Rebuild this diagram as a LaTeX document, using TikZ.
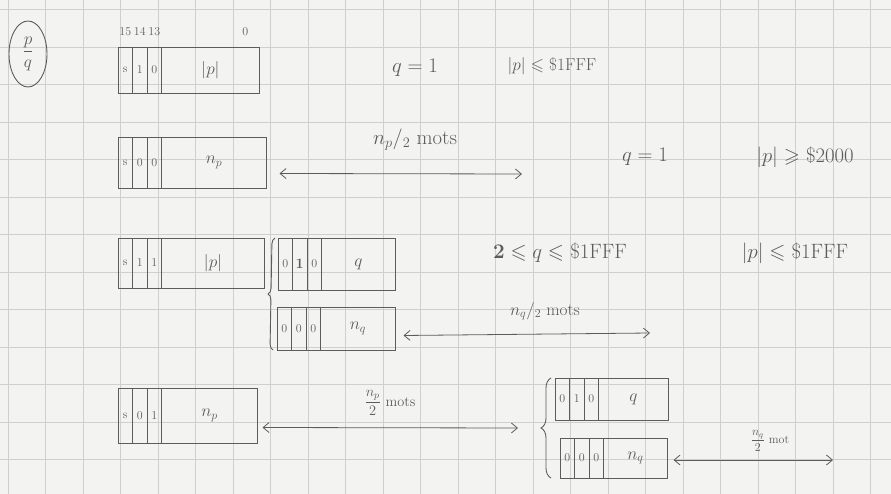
\documentclass[tikz,border=0pt]{standalone}
\usepackage{amsmath,amssymb}
\usetikzlibrary{positioning,shapes.geometric,decorations.pathreplacing,arrows.meta}

\definecolor{pencil}{HTML}{5C5C5C}
\definecolor{paper}{HTML}{F3F3F1}
\definecolor{squares}{HTML}{CFCFCD}

\tikzset{%
  bit/.style={
    rectangle,
    draw=pencil,
    line width=0.9pt,
    inner sep=0pt,
    outer sep=0pt,
    minimum width=14.5,
    text=pencil,
    font=\large
  },
  field/.style={
    rectangle,
    draw=pencil,
    line width=0.9pt,
    inner sep=0pt,
    outer sep=0pt,
    text=pencil,
    font=\LARGE
  },
  note/.style={text=pencil, inner sep=1pt, font=\huge},
  bitno/.style={text=pencil, inner sep=0pt, font=\large},
  size arrow/.style={<->, draw=pencil, line width=0.8pt},
  curly/.style={draw=pencil, line width=0.9pt, decorate, decoration={brace, amplitude=#1}},
  squared/.style={draw=squares, line width=0.8pt},
}

\begin{document}
\begin{tikzpicture}[x=1pt, y=-1pt, >={Straight Barb[length=6pt,width=10pt]}]

% papier
\useasboundingbox (0,0) rectangle (891,494);
\fill[paper] (0,0) rectangle (891,494);
\foreach \gx in {8,45.5,...,891}
  \draw[squared] (\gx,0) -- (\gx,494);
\foreach \gy in {9.5,47,...,494}
  \draw[squared] (0,\gy) -- (891,\gy);


% p/q
\node [ellipse, draw=pencil, line width=0.9pt, text=pencil, minimum width=38, minimum height=66,
  inner sep=0pt, font=\LARGE] (pq) at (28,54) {$\dfrac{p}{q}$};


% mots
\foreach \n/\x/\y/\h/\a/\b/\c/\w/\t in {
    r1/118/70/46/s/1/0/98/{$|p|$},
    r2/118/162.5/51/s/0/0/105/{$n_p$},
    r3/118/263/50/s/1/1/103/{$|p|$},
    r3q/278/264/52/0/{\Large\textbf{1}}/0/74/{$q$},
    r3n/277/328.5/43/0/0/0/75/{$n_q$},
    r4/118/415.5/55/s/0/1/96/{$n_p$},
    r5q/555/399/42/0/1/0/70/{$q$},
    r5n/560/458/40/0/0/0/64/{$n_q$}}
{
  \node [bit, minimum height=\h, anchor=west] (\n-a) at (\x,\y) {\a};
  \node [bit, minimum height=\h, right=0pt of \n-a] (\n-b) {\b};
  \node [bit, minimum height=\h, right=0pt of \n-b] (\n-c) {\c};
  \node [field, minimum height=\h, minimum width=\w, right=0pt of \n-c] (\n) {\t};
}


% numeros des bits
\foreach \b/\l in {a/15,b/14,c/13}
  \node [bitno, above=11pt of r1-\b] (bit\l) {\l};
\node [bitno, above left=11pt and 11pt of r1.north east] (bit0) {0};


% accolades
\coordinate (br3-top) at ([xshift=-3pt]r3q-a.north west);
\coordinate (br3-bot) at ([xshift=-4pt]r3n-a.south west);
\draw [curly=6pt] (br3-bot) -- (br3-top);

\coordinate (br5-top) at ([xshift=-4pt]r5q-a.north west);
\coordinate (br5-bot) at ([xshift=-9pt]r5n-a.south west);
\draw [curly=10pt] (br5-bot) -- (br5-top);


% longueurs
\coordinate (r2-end) at (522,174);
\draw [size arrow] ([shift={(13,11)}]r2.east) -- (r2-end);

\coordinate (r3-end) at (650,333);
\draw [size arrow] ([shift={(8,7)}]r3n.east) -- (r3-end);

\coordinate (r4-end) at (518,428);
\draw [size arrow] ([shift={(5,12)}]r4.east) -- (r4-end);

\coordinate (r5-end) at (833,460);
\draw [size arrow] ([shift={(6,2)}]r5n.east) -- (r5-end);

\node [note] (len2) at (415,140) {$n_p/_2$ mots};
\node [note, font=\LARGE] (len3) at (545,311) {$n_q/_2$ mots};
\node [note, font=\Large] (len4) at (390,403) {$\dfrac{n_p}{2}$ mots};
\node [note, font=\large] (len5) at (770,441) {$\dfrac{n_q}{2}$ mot};


% conditions
\node [note] (cond1q) at (415,68) {$q=1$};
\node [note, font=\LARGE] (cond1p) at (552,66) {$|p|\leqslant$ \$1FFF};
\node [note] (cond2q) at (645,157) {$q=1$};
\node [note] (cond2p) at (805,157) {$|p|\geqslant$ \$2000};
\node [note] (cond3q) at (560,253) {$\mathbf{2}\leqslant q\leqslant$ \$1FFF};
\node [note] (cond3p) at (795,253) {$|p|\leqslant$ \$1FFF};

\end{tikzpicture}
\end{document}
